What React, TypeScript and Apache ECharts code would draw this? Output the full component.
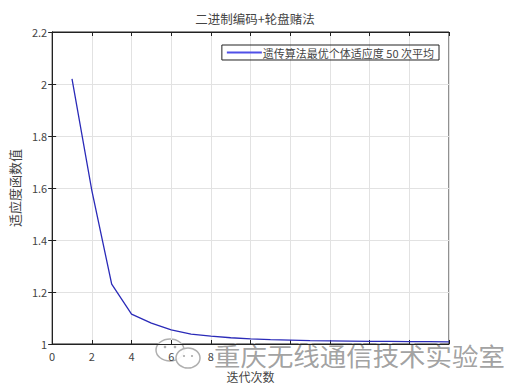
import React, { useEffect, useRef } from "react";
import * as echarts from "echarts";

const iterations = [1, 2, 3, 4, 5, 6, 7, 8, 9, 10, 11, 12, 13, 14, 15, 16, 17, 18, 19, 20];
const fitness = [2.02, 1.59, 1.23, 1.115, 1.08, 1.054, 1.038, 1.03, 1.024, 1.02, 1.017, 1.015, 1.013, 1.012, 1.011, 1.01, 1.01, 1.009, 1.009, 1.008];
const titleText = "二进制编码+轮盘赌法";
const seriesName = "遗传算法最优个体适应度 50 次平均";
const xName = "迭代次数";
const yName = "适应度函数值";
const watermark = "重庆无线通信技术实验室";
const lastVisibleXLabel = 8;

const FONT = "'Noto Sans CJK SC', 'Noto Sans', sans-serif";

export default function App() {
  const ref = useRef<HTMLDivElement>(null);
  useEffect(() => {
    const chart = echarts.init(ref.current!, null, { renderer: "svg" });
    const data = iterations.map((x, i) => [x, fitness[i]]);
    chart.setOption({
      animation: false,
      backgroundColor: "#ffffff",
      textStyle: { fontFamily: FONT },
      title: {
        text: titleText,
        left: 250,
        textAlign: "center",
        top: 7,
        textStyle: { fontSize: 12.5, fontWeight: "normal", color: "#444", fontFamily: FONT },
      },
      legend: {
        right: 72,
        top: 45,
        padding: [2, 5, 2, 5],
        borderColor: "#222",
        borderWidth: 1,
        icon: "rect",
        itemWidth: 35,
        itemHeight: 2,
        itemGap: 4,
        textStyle: { fontSize: 11, color: "#444", fontFamily: FONT, padding: [0, 0, 0, -4] },
        data: [seriesName],
      },
      grid: { left: 49, right: 62, top: 32, bottom: 38, show: true, borderColor: "#222", borderWidth: 1 },
      xAxis: [
        {
          type: "value",
          min: 0,
          max: 20,
          interval: 2,
          name: xName,
          nameLocation: "middle",
          nameGap: 26,
          nameTextStyle: { fontSize: 12, color: "#444", fontFamily: FONT },
          axisLine: { show: true, lineStyle: { color: "#222" } },
          axisTick: { show: true, inside: true, length: 4, lineStyle: { color: "#222" } },
          axisLabel: {
            fontSize: 11,
            color: "#444",
            margin: 7,
            formatter: (v: number) => (v <= lastVisibleXLabel ? String(v) : ""),
          },
          splitLine: { show: true, lineStyle: { color: "#e2e2e2" } },
        },
        {
          type: "value",
          position: "top",
          min: 0,
          max: 20,
          interval: 2,
          axisLine: { show: true, lineStyle: { color: "#222" } },
          axisTick: { show: true, inside: true, length: 4, lineStyle: { color: "#222" } },
          axisLabel: { show: false },
          splitLine: { show: false },
        },
      ],
      yAxis: [
        {
          type: "value",
          min: 1,
          max: 2.2,
          interval: 0.2,
          name: yName,
          nameLocation: "middle",
          nameGap: 26,
          nameTextStyle: { fontSize: 13, color: "#444", fontFamily: FONT },
          axisLine: { show: true, lineStyle: { color: "#222" } },
          axisTick: { show: true, inside: true, length: 4, lineStyle: { color: "#222" } },
          axisLabel: { fontSize: 11, color: "#444", margin: 5, formatter: (v: number) => String(Math.round(v * 10) / 10) },
          splitLine: { show: true, lineStyle: { color: "#e2e2e2" } },
        },
        {
          type: "value",
          position: "right",
          min: 1,
          max: 2.2,
          interval: 0.2,
          axisLine: { show: true, lineStyle: { color: "#222" } },
          axisTick: { show: true, inside: true, length: 4, lineStyle: { color: "#222" } },
          axisLabel: { show: false },
          splitLine: { show: false },
        },
      ],
      series: [
        {
          name: seriesName,
          type: "line",
          data,
          showSymbol: false,
          symbol: "none",
          lineStyle: { color: "#2a2ab8", width: 1.3 },
          itemStyle: { color: "#5050e8" },
          z: 3,
        },
      ],
      graphic: [
        {
          type: "group",
          z: 100,
          children: [
            { type: "ellipse", shape: { cx: 170, cy: 350, rx: 14, ry: 11 }, style: { fill: "rgba(255,255,255,0.92)", stroke: "#b0b0b0", lineWidth: 1.5 } },
            { type: "ellipse", shape: { cx: 188, cy: 358, rx: 12, ry: 10 }, style: { fill: "rgba(255,255,255,0.92)", stroke: "#b0b0b0", lineWidth: 1.5 } },
            { type: "circle", shape: { cx: 165, cy: 347, r: 1.3 }, style: { fill: "#b0b0b0" } },
            { type: "circle", shape: { cx: 175, cy: 347, r: 1.3 }, style: { fill: "#b0b0b0" } },
            { type: "circle", shape: { cx: 184, cy: 356, r: 1.1 }, style: { fill: "#b0b0b0" } },
            { type: "circle", shape: { cx: 192, cy: 356, r: 1.1 }, style: { fill: "#b0b0b0" } },
            {
              type: "text",
              x: 214,
              y: 355,
              scaleX: 1.08,
              style: {
                text: watermark,
                fontSize: 24.5,
                fontFamily: FONT,
                fill: "rgba(150,150,150,0.9)",
                stroke: "#ffffff",
                lineWidth: 2,
                verticalAlign: "middle",
                align: "left",
              },
            },
          ],
        },
      ],
    });
    return () => chart.dispose();
  }, []);
  return <div ref={ref} style={{ width: 511, height: 387, position: "absolute", left: 0, top: 0 }} />;
}
